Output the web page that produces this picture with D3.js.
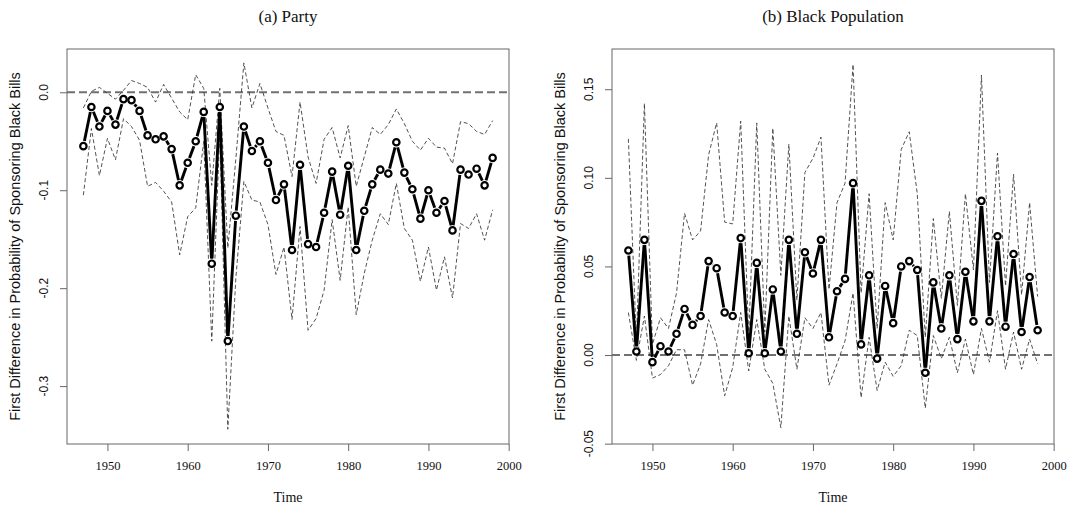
<!DOCTYPE html>
<html>
<head>
<meta charset="utf-8">
<script src="https://cdn.jsdelivr.net/npm/d3@7"></script>
<style>
  html, body { margin: 0; padding: 0; background: #fff; }
  svg { display: block; }
</style>
</head>
<body>
<svg id="chart" width="1072" height="508"></svg>
<script>
const years = d3.range(1947, 1999);

const partyEst = [-0.055,-0.015,-0.035,-0.019,-0.033,-0.007,-0.008,-0.019,-0.044,-0.048,
  -0.045,-0.058,-0.095,-0.072,-0.050,-0.020,-0.175,-0.015,-0.254,-0.126,
  -0.035,-0.060,-0.050,-0.072,-0.110,-0.094,-0.161,-0.074,-0.155,-0.158,
  -0.123,-0.081,-0.125,-0.075,-0.161,-0.121,-0.094,-0.079,-0.083,-0.051,
  -0.082,-0.099,-0.129,-0.100,-0.123,-0.111,-0.141,-0.079,-0.084,-0.078,
  -0.095,-0.067];
const partyUpper = [-0.016,0.001,0.005,-0.001,-0.007,0.002,0.012,0.009,0.005,-0.010,
  0.008,-0.006,-0.020,-0.028,0.018,0.004,-0.095,0.004,-0.159,-0.068,
  0.030,-0.016,0.009,-0.016,-0.040,-0.044,-0.086,-0.010,-0.066,-0.093,
  -0.048,-0.036,-0.067,-0.034,-0.096,-0.066,-0.036,-0.043,-0.033,-0.017,
  -0.032,-0.050,-0.059,-0.047,-0.056,-0.057,-0.073,-0.030,-0.032,-0.040,
  -0.043,-0.029];
const partyLower = [-0.105,-0.037,-0.085,-0.047,-0.069,-0.027,-0.035,-0.049,-0.096,-0.092,
  -0.101,-0.112,-0.166,-0.127,-0.118,-0.050,-0.254,-0.040,-0.344,-0.190,
  -0.091,-0.110,-0.112,-0.135,-0.186,-0.158,-0.232,-0.137,-0.243,-0.231,
  -0.202,-0.130,-0.192,-0.117,-0.227,-0.185,-0.151,-0.124,-0.135,-0.093,
  -0.139,-0.151,-0.193,-0.158,-0.202,-0.168,-0.210,-0.134,-0.139,-0.124,
  -0.151,-0.120];

const bpEst = [0.059,0.002,0.065,-0.004,0.005,0.002,0.012,0.026,0.017,0.022,
  0.053,0.049,0.024,0.022,0.066,0.001,0.052,0.001,0.037,0.002,
  0.065,0.012,0.058,0.046,0.065,0.010,0.036,0.043,0.097,0.006,
  0.045,-0.002,0.039,0.018,0.050,0.053,0.048,-0.010,0.041,0.015,
  0.045,0.009,0.047,0.019,0.087,0.019,0.067,0.016,0.057,0.013,
  0.044,0.014];
const bpUpper = [0.122,0.008,0.142,0.006,0.021,0.015,0.035,0.080,0.065,0.070,
  0.113,0.131,0.075,0.074,0.132,0.011,0.131,0.013,0.128,0.045,
  0.119,0.031,0.103,0.111,0.123,0.037,0.086,0.097,0.164,0.035,
  0.091,0.015,0.086,0.065,0.116,0.126,0.091,0.010,0.077,0.032,
  0.081,0.028,0.091,0.048,0.158,0.041,0.114,0.039,0.102,0.034,
  0.086,0.033];
const bpLower = [0.024,-0.003,0.022,-0.013,-0.011,-0.006,0.003,0.003,-0.017,-0.005,
  0.020,0.006,-0.023,-0.007,0.024,-0.009,0.020,-0.008,-0.016,-0.041,
  0.022,-0.008,0.021,0.015,0.024,-0.017,-0.005,0.008,0.035,-0.024,
  0.010,-0.020,-0.004,-0.012,-0.006,0.014,0.011,-0.030,0.011,-0.002,
  0.010,-0.010,0.009,-0.011,0.015,-0.004,0.025,-0.008,0.013,-0.008,
  0.009,-0.005];

const xTicks = [1950, 1960, 1970, 1980, 1990, 2000];
const partyYTicks = [0, -0.1, -0.2, -0.3];
const partyYLabels = ["0.0", "-0.1", "-0.2", "-0.3"];
const bpYTicks = [-0.05, 0, 0.05, 0.10, 0.15];
const bpYLabels = ["-0.05", "0.00", "0.05", "0.10", "0.15"];

const titles = ["(a) Party", "(b) Black Population"];
const yTitle = "First Difference in Probability of Sponsoring Black Bills";
const xTitle = "Time";

const svg = d3.select("#chart");
const SERIF = "'Liberation Serif', 'Times New Roman', serif";
const SANS = "'Liberation Sans', Arial, Helvetica, sans-serif";

function panel(cfg) {
  const { left, right, top, bottom, yDomain, est, upper, lower, yTicks, yLabels, title } = cfg;
  const x = d3.scaleLinear().domain([1944.96, 2000.04]).range([left, right]);
  const y = d3.scaleLinear().domain(yDomain).range([bottom, top]);
  const g = svg.append("g");

  // title
  g.append("text").attr("x", (left + right) / 2).attr("y", 22)
    .attr("text-anchor", "middle").attr("font-family", SERIF).attr("font-size", 17)
    .attr("fill", "#111").text(title);

  // reference line at zero
  g.append("line").attr("x1", left).attr("x2", right)
    .attr("y1", y(0)).attr("y2", y(0))
    .attr("stroke", "#707070").attr("stroke-width", 2)
    .attr("stroke-dasharray", "8 4");

  // CI lines
  const line = d3.line().x((d, i) => x(years[i])).y(d => y(d));
  [upper, lower].forEach(arr => {
    g.append("path").attr("d", line(arr)).attr("fill", "none")
      .attr("stroke", "#333").attr("stroke-width", 0.85)
      .attr("stroke-dasharray", "4 2.5");
  });

  // main line, type "b": segments with gaps around points
  const pts = est.map((v, i) => [x(years[i]), y(v)]);
  const gap = 5.2;
  for (let i = 0; i < pts.length - 1; i++) {
    const [x1, y1] = pts[i], [x2, y2] = pts[i + 1];
    const dx = x2 - x1, dy = y2 - y1, d = Math.hypot(dx, dy);
    if (d <= 2 * gap) continue;
    const ux = dx / d, uy = dy / d;
    g.append("line")
      .attr("x1", x1 + ux * gap).attr("y1", y1 + uy * gap)
      .attr("x2", x2 - ux * gap).attr("y2", y2 - uy * gap)
      .attr("stroke", "#000").attr("stroke-width", 2.9)
      .attr("stroke-linecap", "butt");
  }
  g.selectAll("circle.pt").data(est).enter().append("circle")
    .attr("class", "pt")
    .attr("cx", (d, i) => x(years[i])).attr("cy", d => y(d))
    .attr("r", 3.2).attr("fill", "#fff").attr("stroke", "#000").attr("stroke-width", 2.2);

  // box
  g.append("rect").attr("x", left).attr("y", top)
    .attr("width", right - left).attr("height", bottom - top)
    .attr("fill", "none").attr("stroke", "#666").attr("stroke-width", 1);

  // x axis
  const xAxis = d3.axisBottom(x).tickValues(xTicks).tickSize(7).tickPadding(10)
    .tickFormat(d3.format("d"));
  const xa = g.append("g").attr("transform", `translate(0,${bottom})`).call(xAxis);
  xa.select(".domain").remove();
  xa.selectAll(".tick line").attr("stroke", "#666");
  xa.selectAll(".tick text").attr("font-family", SERIF).attr("font-size", 12.5)
    .attr("fill", "#111");

  // y axis ticks
  const ya = g.append("g").attr("transform", `translate(${left},0)`)
    .call(d3.axisLeft(y).tickValues(yTicks).tickSize(7).tickFormat(() => ""));
  ya.select(".domain").remove();
  ya.selectAll(".tick line").attr("stroke", "#666");
  yTicks.forEach((t, i) => {
    g.append("text")
      .attr("transform", `translate(${left - 19},${y(t)}) rotate(-90)`)
      .attr("text-anchor", "middle").attr("font-family", SANS).attr("font-size", 12)
      .attr("fill", "#111").text(yLabels[i]);
  });

  // axis titles
  g.append("text").attr("x", (left + right) / 2).attr("y", 502)
    .attr("text-anchor", "middle").attr("font-family", SERIF).attr("font-size", 14)
    .attr("fill", "#111").text(xTitle);
  g.append("text")
    .attr("transform", `translate(${left - 47},${(top + bottom) / 2}) rotate(-90)`)
    .attr("text-anchor", "middle").attr("font-family", SANS).attr("font-size", 14.5)
    .attr("fill", "#111").text(yTitle);
}

panel({ left: 67, right: 509, top: 49, bottom: 444, yDomain: [-0.3591, 0.0442],
  est: partyEst, upper: partyUpper, lower: partyLower,
  yTicks: partyYTicks, yLabels: partyYLabels, title: titles[0] });
panel({ left: 612, right: 1054, top: 49, bottom: 444, yDomain: [-0.0502, 0.1727],
  est: bpEst, upper: bpUpper, lower: bpLower,
  yTicks: bpYTicks, yLabels: bpYLabels, title: titles[1] });
</script>
</body>
</html>
